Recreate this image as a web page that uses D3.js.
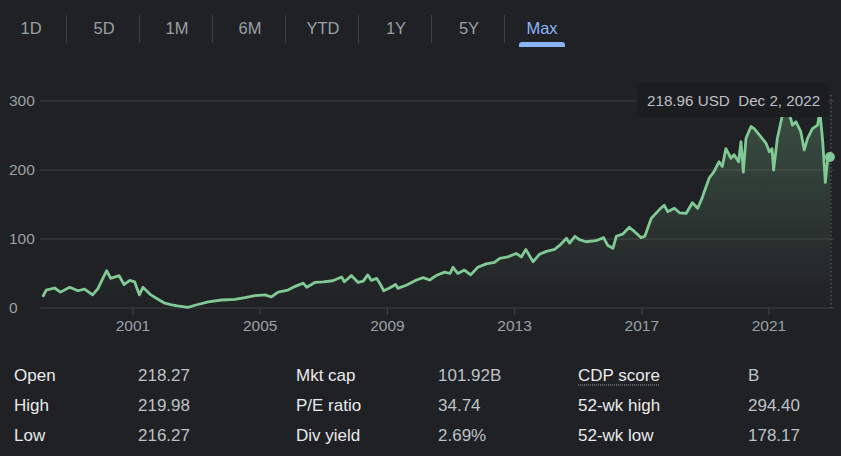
<!DOCTYPE html>
<html>
<head>
<meta charset="utf-8">
<script src="https://cdn.jsdelivr.net/npm/d3@7"></script>
<style>
	body { margin:0; background:#202124; }
	svg { display:block; font-family:Arial, 'Liberation Sans', sans-serif; }
</style>
</head>
<body>
<div id="container"></div>
<script>
// Range tabs
var tabs = ['1D', '5D', '1M', '6M', 'YTD', '1Y', '5Y', 'Max']
var activeTab = 'Max'

// Price history
var dates = ['1998-03-01','1998-04-10','1998-07-15','1998-09-20','1999-01-05','1999-04-10','1999-06-25','1999-09-25','1999-11-25',
	'2000-01-20','2000-03-05','2000-04-20','2000-07-25','2000-09-20','2000-11-25','2001-01-20','2001-03-15','2001-04-25','2001-07-25',
	'2001-10-15','2002-01-01','2002-03-10','2002-05-25','2002-09-25','2002-12-15','2003-05-15','2003-10-15','2004-03-15','2004-07-10',
	'2004-11-01','2005-02-25','2005-05-10','2005-07-25','2005-11-15','2006-02-01','2006-05-10','2006-06-20','2006-09-20','2006-12-25',
	'2007-04-15','2007-07-25','2007-08-25','2007-11-15','2008-01-30','2008-03-30','2008-05-20','2008-07-01','2008-08-30','2008-10-05',
	'2008-11-20','2009-01-25','2009-04-05','2009-05-01','2009-08-05','2009-12-01','2010-02-15','2010-05-01','2010-07-15','2010-10-20',
	'2010-12-20','2011-01-25','2011-03-20','2011-06-05','2011-08-15','2011-11-05','2012-02-10','2012-05-15','2012-07-15','2012-10-15',
	'2013-01-20','2013-03-20','2013-05-10','2013-08-01','2013-10-15','2014-01-01','2014-04-05','2014-06-05','2014-08-20','2014-09-25',
	'2014-11-25','2015-01-15','2015-04-01','2015-07-25','2015-10-20','2015-12-05','2016-02-05','2016-03-15','2016-05-25','2016-08-10',
	'2016-10-10','2016-12-25','2017-02-05','2017-04-20','2017-07-25','2017-09-15','2017-10-25','2018-01-10','2018-03-10','2018-05-25',
	'2018-08-05','2018-10-05','2018-11-30','2018-12-19','2019-01-25','2019-02-13','2019-04-10','2019-06-08','2019-07-15','2019-08-25',
	'2019-10-22','2019-11-28','2020-01-18','2020-02-14','2020-03-12','2020-04-12','2020-06-08','2020-07-15','2020-09-12','2020-11-27',
	'2021-01-05','2021-02-05','2021-02-23','2021-04-07','2021-06-05','2021-08-05','2021-09-27','2021-11-06','2022-01-01','2022-02-10',
	'2022-03-20','2022-05-15','2022-07-13','2022-08-08','2022-09-10','2022-10-10','2022-11-03','2022-12-02']
var prices = [16,26,29,23,30,25,27.5,19,28,
	43,54,43,47,34,40,38,19,30,19,
	12.6,7,5,3,1,4,9,11.6,12.6,15,
	18,19,16,23,26,31,36,30,37,38,
	39.5,45,38,47,37,39,48,40,43,36,
	25,29,34,28.5,33,40.6,44,40.6,47,52,
	50,59,50,55,48,59,64,66,72,74,
	79,74,85,67,78,82,85,91,101,94,
	104,99,96,97.5,102,91,86.5,104,107,117,
	110.6,102,104,130,143,149,139.6,144.5,138,137,
	152.6,144.5,161,168.6,181,188,197.6,212,205,231,
	217,222,212,241,197,246,263,260,251,239,
	226.5,231,200,246,280,290,265,270,255.5,229,
	246,260,265,285,241,182,212,218.96]

// Axis ticks
var yTicks = [0, 100, 200, 300]
var xTickYears = ['2001', '2005', '2009', '2013', '2017', '2021']

// Key stats
var statLabels = [['Open', 'High', 'Low'], ['Mkt cap', 'P/E ratio', 'Div yield'], ['CDP score', '52-wk high', '52-wk low']]
var statValues = [['218.27', '219.98', '216.27'], ['101.92B', '34.74', '2.69%'], ['B', '294.40', '178.17']]

var tipPrice = '218.96 USD'
var tipDate = 'Dec 2, 2022'

var width = 841, height = 456
var lineColor = '#81c995'
var parse = d3.timeParse('%Y-%m-%d')
var data = dates.map(function(d, i) { return {date:parse(d), value:prices[i]} })

var svg = d3.select('#container').append('svg').attr('width', width).attr('height', height)
svg.append('rect').attr('width', width).attr('height', height).attr('fill', '#202124')

// Tabs
var tabX = d3.scalePoint().domain(tabs).range([31, 542])
var tabG = svg.append('g')
tabs.forEach(function(t, i) {
	if(i > 0) {
		var sx = (tabX(tabs[i - 1]) + tabX(t)) / 2 - 1
		tabG.append('line').attr('x1', sx).attr('x2', sx).attr('y1', 15).attr('y2', 43)
			.attr('stroke', '#3c4043').attr('stroke-width', 1)
	}
	tabG.append('text').attr('x', tabX(t)).attr('y', 34).attr('text-anchor', 'middle')
		.attr('font-size', '16.5px').attr('fill', t == activeTab ? '#8ab4f8' : '#9aa0a6').text(t)
})
var ax = tabX(activeTab)
tabG.append('path')
	.attr('d', 'M' + (ax - 23) + ',47 L' + (ax - 23) + ',45 Q' + (ax - 23) + ',42 ' + (ax - 20) + ',42 L' + (ax + 20) + ',42 Q' + (ax + 23) + ',42 ' + (ax + 23) + ',45 L' + (ax + 23) + ',47 Z')
	.attr('fill', '#8ab4f8')

// Scales
var x = d3.scaleTime().domain([parse('2001-01-01'), parse('2021-01-01')]).range([133, 769])
var y = d3.scaleLinear().domain([0, 300]).range([308, 101])

// Grid + y labels
yTicks.forEach(function(t) {
	svg.append('line').attr('x1', 40).attr('x2', 834).attr('y1', y(t)).attr('y2', y(t))
		.attr('stroke', '#3c4043').attr('stroke-width', 1.2)
	svg.append('text').attr('x', 9).attr('y', y(t) + 5).attr('font-size', '15.5px').attr('fill', '#9aa0a6').text(t)
})

// X ticks
xTickYears.forEach(function(yr) {
	var tx = x(parse(yr + '-01-01'))
	svg.append('line').attr('x1', tx).attr('x2', tx).attr('y1', 308).attr('y2', 315)
		.attr('stroke', '#3c4043').attr('stroke-width', 1.2)
	svg.append('text').attr('x', tx).attr('y', 331).attr('text-anchor', 'middle')
		.attr('font-size', '15.5px').attr('fill', '#9aa0a6').text(yr)
})

// Area gradient
var grad = svg.append('defs').append('linearGradient').attr('id', 'fade')
	.attr('gradientUnits', 'userSpaceOnUse').attr('x1', 0).attr('x2', 0).attr('y1', y(300)).attr('y2', y(0))
grad.append('stop').attr('offset', '0%').attr('stop-color', lineColor).attr('stop-opacity', 0.28)
grad.append('stop').attr('offset', '100%').attr('stop-color', lineColor).attr('stop-opacity', 0)

var area = d3.area().x(function(d) { return x(d.date) }).y0(y(0)).y1(function(d) { return y(d.value) })
var line = d3.line().x(function(d) { return x(d.date) }).y(function(d) { return y(d.value) })

svg.append('path').datum(data).attr('d', area).attr('fill', 'url(#fade)')
svg.append('path').datum(data).attr('d', line).attr('fill', 'none')
	.attr('stroke', lineColor).attr('stroke-width', 2.8).attr('stroke-linejoin', 'round')

// Hover marker
var last = data[data.length - 1]
svg.append('line').attr('x1', x(last.date) + 1).attr('x2', x(last.date) + 1).attr('y1', 95).attr('y2', 308)
	.attr('stroke', '#5f6368').attr('stroke-width', 1.2).attr('stroke-dasharray', '1.5,2.5')
svg.append('circle').attr('cx', x(last.date)).attr('cy', y(last.value)).attr('r', 5).attr('fill', lineColor)

// Tooltip
var tip = svg.append('g')
tip.append('rect').attr('x', 637).attr('y', 83).attr('width', 191).attr('height', 34).attr('fill', '#1c1d20')
tip.append('text').attr('x', 647).attr('y', 106).attr('font-size', '15.2px').attr('fill', '#bdc1c6')
	.text(tipPrice + '\u00a0\u00a0' + tipDate)

// Stats table
var colX = [[14, 138], [296, 438], [578, 748]]
var rowY = [381, 411, 441]
statLabels.forEach(function(col, c) {
	col.forEach(function(lab, r) {
		var t = svg.append('text').attr('x', colX[c][0]).attr('y', rowY[r]).attr('font-size', '17px')
			.attr('fill', '#e8eaed').text(lab)
		if(lab == 'CDP score') {
			var w = t.node().getComputedTextLength()
			svg.append('line').attr('x1', colX[c][0]).attr('x2', colX[c][0] + w).attr('y1', rowY[r] + 4).attr('y2', rowY[r] + 4)
				.attr('stroke', '#9aa0a6').attr('stroke-width', 1).attr('stroke-dasharray', '1,1')
		}
		svg.append('text').attr('x', colX[c][1]).attr('y', rowY[r]).attr('font-size', '17px')
			.attr('fill', '#bdc1c6').text(statValues[c][r])
	})
})
</script>
</body>
</html>
